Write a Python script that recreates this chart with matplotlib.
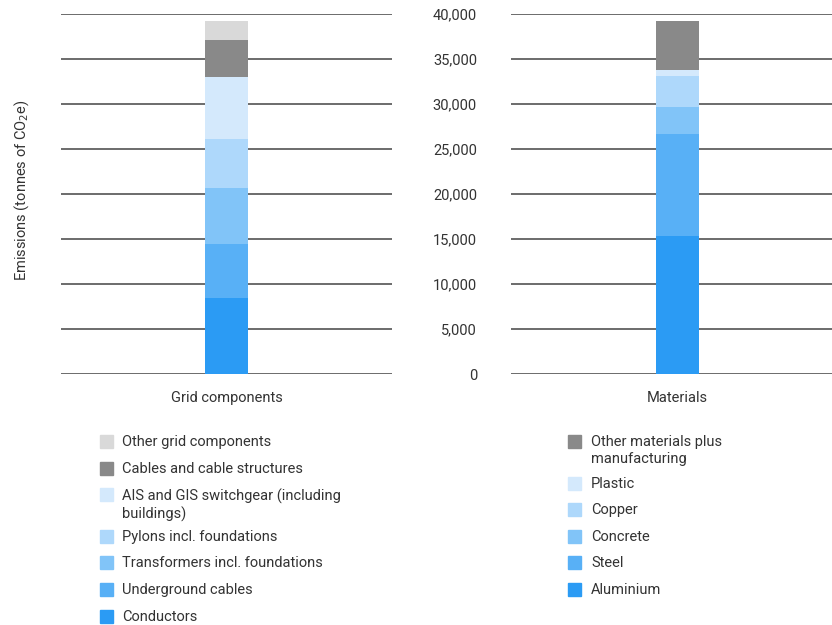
import matplotlib.pyplot as plt
from matplotlib.patches import Rectangle

plt.rcParams['font.family'] = ['Roboto', 'DejaVu Sans']

# tonnes of CO2e, stacked bottom to top
grid_labels = ['Conductors', 'Underground cables', 'Transformers incl. foundations',
               'Pylons incl. foundations', 'AIS and GIS switchgear (including\nbuildings)',
               'Cables and cable structures', 'Other grid components']
grid_values = [8430, 5980, 6230, 5450, 6900, 4120, 2110]

material_labels = ['Aluminium', 'Steel', 'Concrete', 'Copper', 'Plastic',
                   'Other materials plus\nmanufacturing']
material_values = [15300, 11350, 3000, 3450, 670, 5450]

grid_colors = ['#2b9bf4', '#58b0f6', '#81c4f8', '#aed8fb', '#d4e9fc', '#898989', '#d9d9d9']
material_colors = ['#2b9bf4', '#58b0f6', '#81c4f8', '#aed8fb', '#d4e9fc', '#898989']

yticks = [0, 5000, 10000, 15000, 20000, 25000, 30000, 35000, 40000]
text_color = '#333333'

W, H = 832, 625
fig = plt.figure(figsize=(W / 100, H / 100), dpi=100)


def px_axes(x0, x1, y0, y1):
    return fig.add_axes([x0 / W, 1 - y1 / H, (x1 - x0) / W, (y1 - y0) / H])


def stacked(ax, values, colors, xlabel):
    bottom = 0
    for v, c in zip(values, colors):
        ax.bar(0, v, bottom=bottom, width=0.13, color=c, zorder=3)
        bottom += v
    ax.set_xlim(-0.5, 0.5)
    ax.set_ylim(0, 40000)
    ax.set_yticks(yticks)
    ax.grid(axis='y', color='#444444', linewidth=1.1, zorder=1)
    for s in ax.spines.values():
        s.set_visible(False)
    ax.set_xticks([])
    ax.set_xlabel(xlabel, fontsize=10.5, color=text_color, labelpad=12)
    ax.tick_params(axis='y', length=0, colors=text_color, labelsize=10.5, pad=24.5)


ax1 = px_axes(61, 392, 14, 374)
stacked(ax1, grid_values, grid_colors, 'Grid components')
ax1.set_yticklabels([])

ax2 = px_axes(511, 844, 14, 374)
stacked(ax2, material_values, material_colors, 'Materials')
ax2.set_yticklabels([f'{t:,}' for t in yticks])

fig.text(22 / W, 1 - 190 / H, 'Emissions (tonnes of CO$_2$e)', rotation=90,
         ha='center', va='center', fontsize=10.5, color=text_color)


def legend(x_box, x_text, y_start, labels, colors):
    y = y_start
    for lab, c in zip(labels, colors):
        fig.patches.append(Rectangle((x_box / W, 1 - (y + 7) / H), 13 / W, 13 / H,
                                     transform=fig.transFigure, color=c, figure=fig))
        fig.text(x_text / W, 1 - (y - 6) / H, lab, ha='left', va='top',
                 fontsize=10.5, color=text_color, linespacing=1.28)
        y += 26.6 + 15 * lab.count('\n')


legend(100, 122, 441, grid_labels[::-1], grid_colors[::-1])
legend(568, 591, 441, material_labels[::-1], material_colors[::-1])

plt.savefig('out.png', dpi=100)
